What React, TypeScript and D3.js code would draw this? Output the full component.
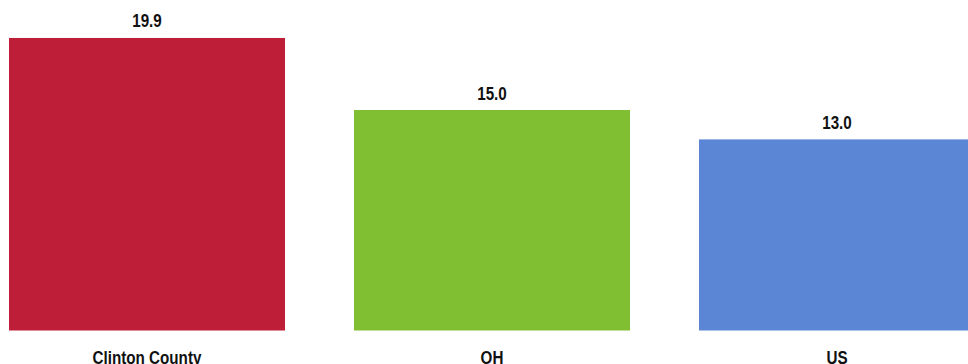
import React from "react";
import * as d3 from "d3";

const categories = ["Clinton County", "OH", "US"];
const values = [19.9, 15.0, 13.0];
const colors = ["#BE1E38", "#80BE32", "#5B86D6"];

const W = 968;
const H = 364;
const FONT = "'Liberation Sans', Arial, sans-serif";
const NARROW = 0.8;

export default function App() {
  const x = d3.scaleBand<string>().domain(categories).range([9, 975]).paddingInner(0.2).paddingOuter(0);
  const y = d3.scaleLinear().domain([0, 20]).range([330.5, 36.5]);
  return (
    <svg width={W} height={H} style={{ position: "absolute", left: 0, top: 0, background: "#fff" }}>
      {categories.map((c, i) => {
        const bx = x(c)!;
        const bw = x.bandwidth();
        const top = y(values[i]);
        const cx = bx + bw / 2;
        return (
          <g key={c}>
            <rect x={bx} y={top} width={bw} height={y(0) - top} fill={colors[i]} />
            <text transform={`translate(${cx},${top - 10.5}) scale(${NARROW},1)`} textAnchor="middle" fontFamily={FONT} fontWeight="bold" fontSize={19} fill="#111">
              {values[i].toFixed(1)}
            </text>
            <text transform={`translate(${cx},363.5) scale(${NARROW},1)`} textAnchor="middle" fontFamily={FONT} fontWeight="bold" fontSize={19} fill="#111">
              {c}
            </text>
          </g>
        );
      })}
    </svg>
  );
}
